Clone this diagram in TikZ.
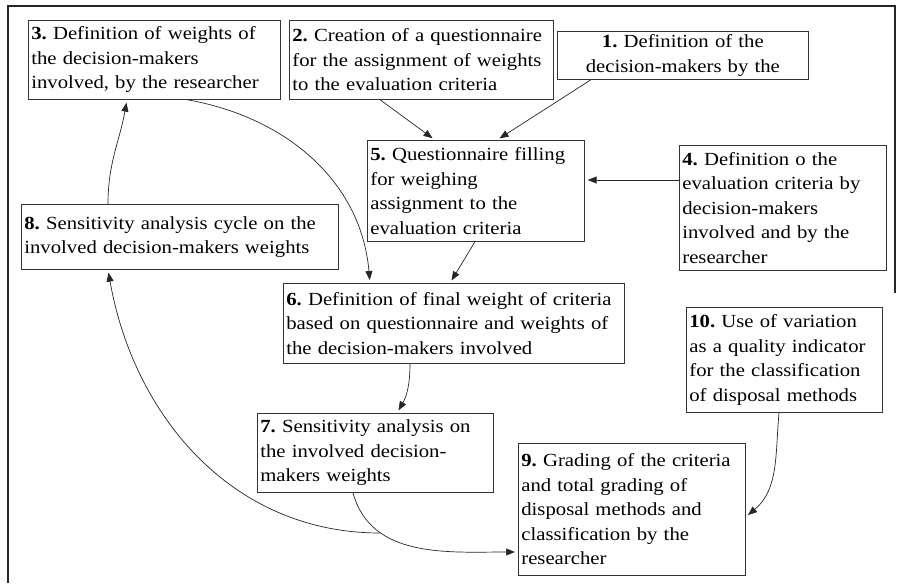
\documentclass[tikz,border=0pt]{standalone}
\usepackage{fontspec}
\setmainfont{Liberation Serif}[FakeStretch=1.12]
\usetikzlibrary{arrows.meta,calc}
\frenchspacing

\tikzset{
  frame/.style={draw=black!85, line width=1.3pt},
  stepbox/.style={draw=black!80, line width=0.7pt, rectangle, anchor=north west,
    inner xsep=3pt, inner ysep=0pt, align=left,
    font=\fontsize{18.5}{24.5}\selectfont},
  boxsize/.style n args={2}{text width=#1pt, minimum height=#2pt},
  flow/.style={draw=black!85, line width=0.7pt, shorten >=3pt,
    -{Triangle[length=9pt,width=7pt]}},
}

\begin{document}
\begin{tikzpicture}[x=1pt,y=1pt]
\useasboundingbox (0,0) rectangle (898,-586);

% open outer frame
\draw[frame] (8,-583) -- (8,-6) -- (895,-6) -- (895,-293);

% process steps
\node[stepbox, boxsize={246}{79}] (n3) at (28,-20)
  {\textbf{3.} Definition of weights of\\the decision-makers\\involved, by the researcher};
\node[stepbox, boxsize={258}{79}] (n2) at (289,-20)
  {\textbf{2.} Creation of a questionnaire\\for the assignment of weights\\to the evaluation criteria};
\node[stepbox, boxsize={245}{48}, align=center] (n1) at (557,-31)
  {\textbf{1.} Definition of the\\decision-makers by the};
\node[stepbox, boxsize={211}{101}] (n5) at (367,-140)
  {\textbf{5.} Questionnaire filling\\for weighing\\assignment to the\\evaluation criteria};
\node[stepbox, boxsize={201}{125}] (n4) at (679,-145)
  {\textbf{4.} Definition o the\\evaluation criteria by\\decision-makers\\involved and by the\\researcher};
\node[stepbox, boxsize={311}{65}] (n8) at (21,-204)
  {\textbf{8.} Sensitivity analysis cycle on the\\involved decision-makers weights};
\node[stepbox, boxsize={335}{80}] (n6) at (283,-283)
  {\textbf{6.} Definition of final weight of criteria\\based on questionnaire and weights of\\the decision-makers involved};
\node[stepbox, boxsize={190}{105}] (n10) at (686,-307)
  {\textbf{10.} Use of variation\\as a quality indicator\\for the classification\\of disposal methods};
\node[stepbox, boxsize={230}{79}] (n7) at (257,-413)
  {\textbf{7.} Sensitivity analysis on\\the involved decision-\\makers weights};
\node[stepbox, boxsize={221}{132}] (n9) at (518,-443)
  {\textbf{9.} Grading of the criteria\\and total grading of\\disposal methods and\\classification by the\\researcher};

% connectors
\draw[flow] ($(n2.south west)+(91,0)$) -- ($(n5.north west)+(68,0)$);
\draw[flow] ($(n1.south west)+(34,0)$) -- ($(n5.north west)+(130,0)$);
\draw[flow] ($(n4.north west)+(0,-35)$) -- ($(n5.north east)+(0,-40)$);
\draw[flow] ($(n5.south west)+(108,0)$) -- ($(n6.north west)+(167,0)$);
\draw[flow] ($(n3.south west)+(159,0)$) to[out=-10,in=95] ($(n6.north west)+(87,0)$);
\draw[flow] ($(n8.north west)+(87,0)$) to[out=90,in=-100] ($(n3.south west)+(99,0)$);
\draw[flow] ($(n6.south west)+(127,0)$) to[out=-90,in=60] ($(n7.north west)+(140,0)$);
\draw[flow] ($(n7.south west)+(96,0)$) to[out=-75,in=180] ($(n9.north west)+(0,-109)$);
\draw[flow] ($(n10.south west)+(93,0)$) to[out=-95,in=40] ($(n9.north east)+(0,-74)$);
\coordinate (tail98) at (380,-533);
\draw[flow] (tail98) to[out=180,in=-80] ($(n8.south west)+(87,0)$);
\end{tikzpicture}
\end{document}
